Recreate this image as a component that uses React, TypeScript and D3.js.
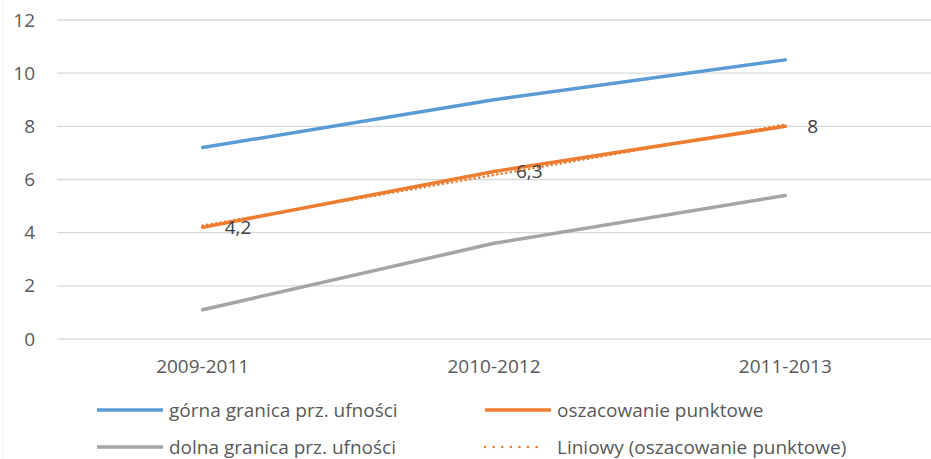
import React from "react";
import * as d3 from "d3";

const categories = ["2009-2011", "2010-2012", "2011-2013"];
const upperBound = [7.2, 9.0, 10.5];
const pointEstimate = [4.2, 6.3, 8];
const lowerBound = [1.1, 3.6, 5.4];
const pointLabels = ["4,2", "6,3", "8"];
const yTicks = [0, 2, 4, 6, 8, 10, 12];
const legendLabels = [
  "górna granica prz. ufności",
  "oszacowanie punktowe",
  "dolna granica prz. ufności",
  "Liniowy (oszacowanie punktowe)",
];

const W = 931;
const H = 459;
const FONT = "'Open Sans', 'DejaVu Sans', sans-serif";
const BLUE = "#5B9BD5";
const ORANGE = "#ED7D31";
const GRAY = "#A5A5A5";
const TEXT = "#595959";
const FS = 19;

function linearTrend(vals: number[]): number[] {
  const xs = vals.map((_, i) => i + 1);
  const mx = d3.mean(xs)!;
  const my = d3.mean(vals)!;
  let num = 0;
  let den = 0;
  xs.forEach((x, i) => {
    num += (x - mx) * (vals[i] - my);
    den += (x - mx) * (x - mx);
  });
  const b = num / den;
  const a = my - b * mx;
  return xs.map((x) => a + b * x);
}

export default function App() {
  const plotLeft = 57;
  const plotRight = 931;
  const x = d3.scaleBand<string>().domain(categories).range([plotLeft, plotRight]);
  const cx = (c: string) => (x(c) as number) + x.bandwidth() / 2;
  const y = d3.scaleLinear().domain([0, 12]).range([339, 20]);

  const line = d3
    .line<number>()
    .x((_, i) => cx(categories[i]))
    .y((d) => y(d));

  const trend = linearTrend(pointEstimate);

  const legendItems = [
    { label: legendLabels[0], color: BLUE, dotted: false, lx: 97, ly: 410 },
    { label: legendLabels[1], color: ORANGE, dotted: false, lx: 485, ly: 410 },
    { label: legendLabels[2], color: GRAY, dotted: false, lx: 97, ly: 447 },
    { label: legendLabels[3], color: ORANGE, dotted: true, lx: 485, ly: 447 },
  ];

  return (
    <svg
      width={W}
      height={H}
      style={{ position: "absolute", left: 0, top: 0, background: "#fff" }}
      fontFamily={FONT}
    >
      <rect x={0} y={0} width={W} height={H} fill="#fff" />
      <line x1={3} x2={3} y1={0} y2={H} stroke="#EDEDED" strokeWidth={1} />
      {yTicks.map((t) => (
        <g key={t}>
          <line x1={plotLeft} x2={plotRight} y1={y(t)} y2={y(t)} stroke="#D9D9D9" strokeWidth={1.3} />
          <text x={35} y={y(t)} dy="0.35em" textAnchor="end" fontSize={FS} fill={TEXT}>
            {t}
          </text>
        </g>
      ))}
      {categories.map((c) => (
        <text key={c} x={cx(c)} y={366} dy="0.35em" textAnchor="middle" fontSize={FS} fill={TEXT}>
          {c}
        </text>
      ))}
      <path d={line(upperBound) || ""} fill="none" stroke={BLUE} strokeWidth={3.5} strokeLinecap="round" />
      <path d={line(lowerBound) || ""} fill="none" stroke={GRAY} strokeWidth={3.5} strokeLinecap="round" />
      <path d={line(pointEstimate) || ""} fill="none" stroke={ORANGE} strokeWidth={3.5} strokeLinecap="round" />
      <path
        d={line(trend) || ""}
        fill="none"
        stroke={ORANGE}
        strokeWidth={2.5}
        strokeDasharray="0.1 4.5"
        strokeLinecap="round"
      />
      {pointEstimate.map((v, i) => (
        <text key={i} x={cx(categories[i]) + 22} y={y(v)} dy="0.35em" fontSize={FS} fill="#404040">
          {pointLabels[i]}
        </text>
      ))}
      {legendItems.map((it) => (
        <g key={it.label}>
          <line
            x1={it.lx}
            x2={it.lx + (it.dotted ? 60 : 66)}
            y1={it.ly}
            y2={it.ly}
            stroke={it.color}
            strokeWidth={it.dotted ? 2.5 : 3.5}
            strokeDasharray={it.dotted ? "0.1 8.5" : undefined}
            strokeLinecap={it.dotted ? "round" : "butt"}
          />
          <text x={it.lx + 72} y={it.ly} dy="0.35em" fontSize={FS} fill={TEXT}>
            {it.label}
          </text>
        </g>
      ))}
    </svg>
  );
}
